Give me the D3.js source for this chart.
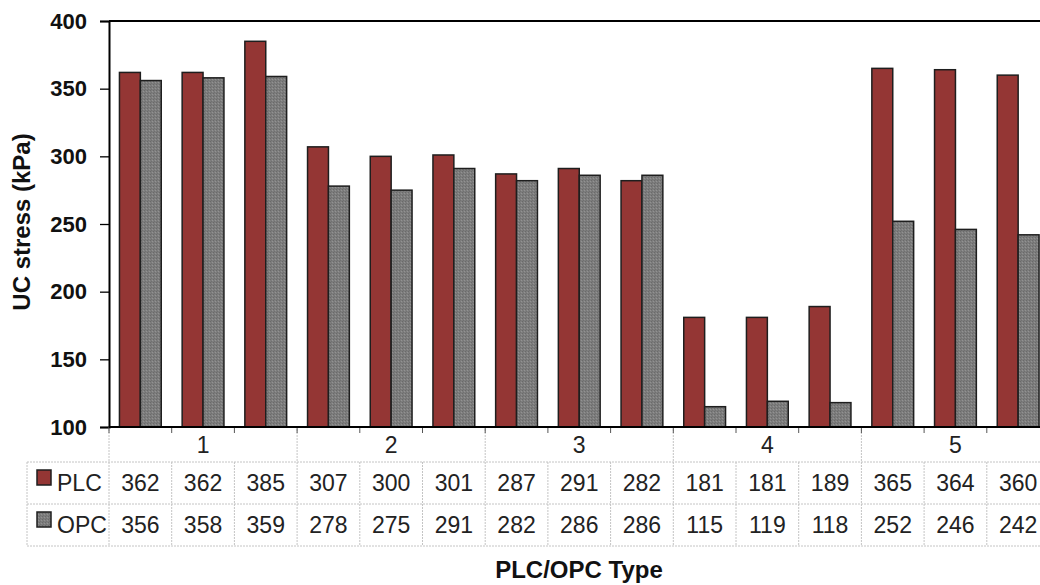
<!DOCTYPE html>
<html lang="en">
<head>
  <meta charset="UTF-8">
  <title>UC stress</title>
  <script src="https://d3js.org/d3.v7.min.js"></script>
  <style>
    body { margin: 0; background: #fff; }
    svg { display: block; font-family: "Liberation Sans", Arial, sans-serif; }
    .ytick text { font-size: 22px; font-weight: bold; fill: #111; }
    .cell { font-size: 23px; fill: #222; }
    .grid { stroke: #c4c4c4; stroke-width: 1; stroke-dasharray: 2,1; }
  </style>
</head>
<body>
  <svg width="1040" height="585"></svg>

  <script>
    const groups = ["1", "2", "3", "4", "5"];
    const perGroup = 3;
    const series = ["PLC", "OPC"];
    const plc = [362, 362, 385, 307, 300, 301, 287, 291, 282, 181, 181, 189, 365, 364, 360];
    const opc = [356, 358, 359, 278, 275, 291, 282, 286, 286, 115, 119, 118, 252, 246, 242];
    const yTicks = [100, 150, 200, 250, 300, 350, 400];
    const colors = { PLC: "#943634", OPC: "#7d7d7d" };

    const svg = d3.select("svg");
    const plotLeft = 109, plotTop = 21, plotBottom = 427;
    const catW = 62.7;
    const cats = d3.range(plc.length);

    const defs = svg.append("defs");
    const pat = defs.append("pattern").attr("id", "grain")
      .attr("width", 3).attr("height", 3).attr("patternUnits", "userSpaceOnUse");
    pat.append("rect").attr("width", 3).attr("height", 3).attr("fill", colors.OPC);
    pat.append("rect").attr("width", 1).attr("height", 1).attr("fill", "#6a6a6a");
    pat.append("rect").attr("x", 2).attr("y", 1).attr("width", 1).attr("height", 1).attr("fill", "#929292");
    pat.append("rect").attr("x", 1).attr("y", 2).attr("width", 1).attr("height", 1).attr("fill", "#717171");

    const x = d3.scaleBand().domain(cats).range([plotLeft, plotLeft + catW * cats.length]);
    const xs = d3.scaleBand().domain(series).range([x.bandwidth() / 6, x.bandwidth() * 5 / 6]);
    const y = d3.scaleLinear().domain([100, 400]).range([plotBottom, plotTop]);

    const rows = series.map(s => ({ key: s, values: s === "PLC" ? plc : opc }));

    // bars
    const g = svg.append("g");
    rows.forEach(r => {
      g.selectAll(null).data(r.values).join("rect")
        .attr("x", (d, i) => x(i) + xs(r.key))
        .attr("y", d => y(d))
        .attr("width", xs.bandwidth())
        .attr("height", d => y(100) - y(d))
        .attr("fill", r.key === "OPC" ? "url(#grain)" : colors.PLC)
        .attr("stroke", "#1e1e1e")
        .attr("stroke-width", 1.5);
    });

    // frame: top line and y axis
    svg.append("line").attr("x1", plotLeft).attr("x2", 1040).attr("y1", plotTop).attr("y2", plotTop)
      .attr("stroke", "#000").attr("stroke-width", 2);

    const yAxis = svg.append("g").attr("class", "ytick")
      .attr("transform", `translate(${plotLeft},0)`)
      .call(d3.axisLeft(y).tickValues(yTicks).tickSize(9).tickPadding(13));
    yAxis.select(".domain").attr("stroke", "#000").attr("stroke-width", 2);
    yAxis.selectAll(".tick line").attr("stroke", "#000").attr("stroke-width", 1.3);

    // data table
    const rowTop = 462, rowH = 42, legendLeft = 27;
    const plotRight = plotLeft + catW * cats.length;
    const tbl = svg.append("g");

    // horizontal grid lines
    [rowTop, rowTop + rowH, rowTop + 2 * rowH].forEach(yy => {
      tbl.append("line").attr("class", "grid")
        .attr("x1", legendLeft).attr("x2", plotRight).attr("y1", yy).attr("y2", yy);
    });
    tbl.append("line").attr("class", "grid")
      .attr("x1", legendLeft).attr("x2", legendLeft).attr("y1", rowTop).attr("y2", rowTop + 2 * rowH);

    // vertical lines: full height on group edges, data rows only elsewhere
    d3.range(cats.length + 1).forEach(i => {
      const xx = plotLeft + i * catW;
      const edge = i % perGroup === 0;
      tbl.append("line").attr("class", "grid")
        .attr("x1", xx).attr("x2", xx)
        .attr("y1", edge ? plotBottom + 2 : rowTop).attr("y2", rowTop + 2 * rowH);
      tbl.append("line").attr("x1", xx).attr("x2", xx)
        .attr("y1", plotBottom).attr("y2", plotBottom + 6)
        .attr("stroke", "#555").attr("stroke-width", 1);
    });

    // x axis line
    svg.append("line").attr("x1", plotLeft).attr("x2", 1040).attr("y1", plotBottom).attr("y2", plotBottom)
      .attr("stroke", "#000").attr("stroke-width", 2);

    // group labels
    tbl.selectAll(".grp").data(groups).join("text")
      .attr("class", "cell")
      .attr("x", (d, i) => plotLeft + (i * perGroup + perGroup / 2) * catW)
      .attr("y", 453)
      .attr("text-anchor", "middle")
      .text(d => d);

    // value rows
    rows.forEach((r, ri) => {
      const cy = rowTop + ri * rowH + rowH / 2 + 8;
      tbl.append("rect")
        .attr("x", 37).attr("y", cy - 21).attr("width", 14).attr("height", 15)
        .attr("fill", r.key === "OPC" ? "url(#grain)" : colors.PLC)
        .attr("stroke", "#1e1e1e").attr("stroke-width", 1.5);
      tbl.append("text").attr("class", "cell")
        .attr("x", 57).attr("y", cy).text(r.key);
      tbl.selectAll(null).data(r.values).join("text")
        .attr("class", "cell")
        .attr("x", (d, i) => x(i) + x.bandwidth() / 2)
        .attr("y", cy)
        .attr("text-anchor", "middle")
        .text(d => d);
    });

    // titles
    svg.append("text")
      .attr("transform", "translate(30,222) rotate(-90)")
      .attr("text-anchor", "middle")
      .style("font-size", "24px").style("font-weight", "bold").attr("fill", "#111")
      .text("UC stress (kPa)");

    svg.append("text")
      .attr("x", 579).attr("y", 578)
      .attr("text-anchor", "middle")
      .style("font-size", "24px").style("font-weight", "bold").attr("fill", "#111")
      .text("PLC/OPC Type");
  </script>
</body>
</html>
